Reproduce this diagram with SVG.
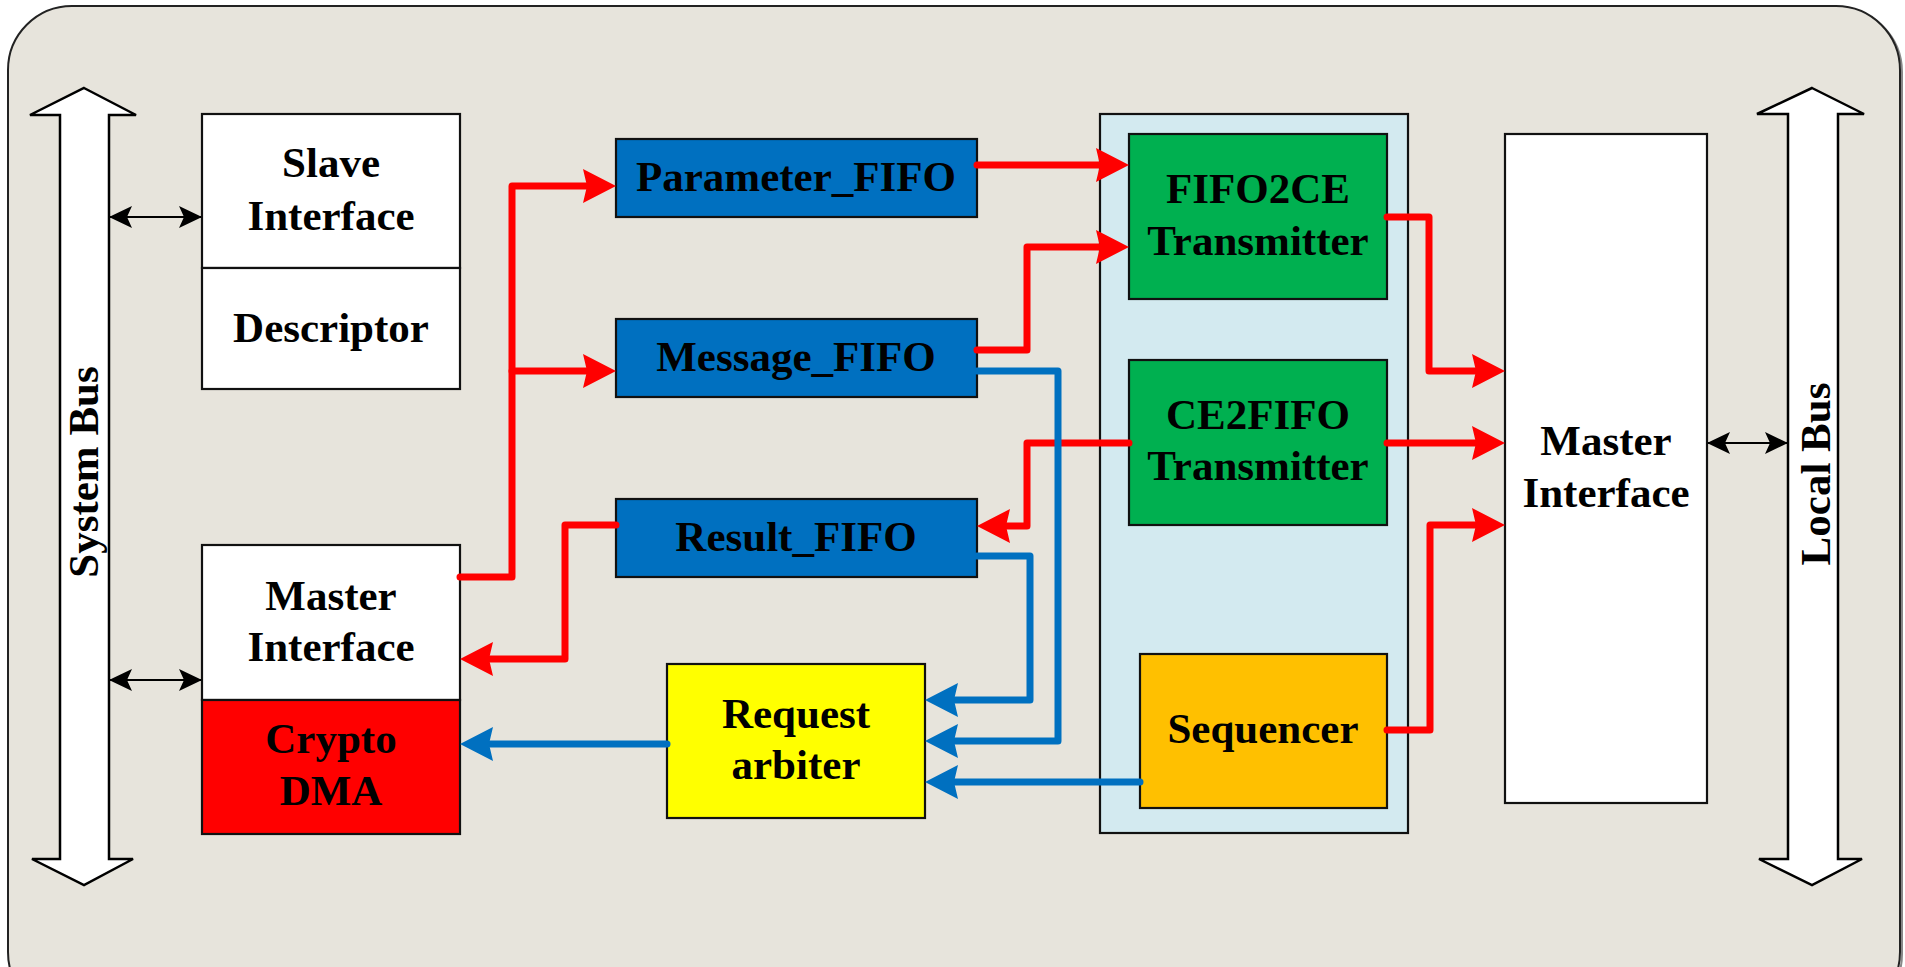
<svg xmlns="http://www.w3.org/2000/svg" width="1905" height="967" viewBox="0 0 1905 967">
<style>
  .box{stroke:#111;stroke-width:2.2}
  .t{font-family:"Liberation Serif","Times New Roman",serif;font-weight:bold;font-size:43px;fill:#000;text-anchor:middle}
  .red{fill:none;stroke:#FF0000;stroke-width:7;stroke-linecap:round;stroke-linejoin:round}
  .blue{fill:none;stroke:#0070C0;stroke-width:7;stroke-linecap:round;stroke-linejoin:round}
  .blk{fill:none;stroke:#000;stroke-width:2}
  .bus{fill:#fff;stroke:#000;stroke-width:2.5;stroke-linejoin:miter}
</style>
<defs>
  <marker id="ar" viewBox="-20 -20 45 40" markerWidth="45" markerHeight="40" refX="0" refY="0" markerUnits="userSpaceOnUse" orient="auto">
    <path d="M20,0 L-13,-17 L-9,0 L-13,17 Z" fill="#FF0000"/>
  </marker>
  <marker id="ab" viewBox="-20 -20 45 40" markerWidth="45" markerHeight="40" refX="0" refY="0" markerUnits="userSpaceOnUse" orient="auto">
    <path d="M20,0 L-13,-17 L-9,0 L-13,17 Z" fill="#0070C0"/>
  </marker>
  <marker id="ak" viewBox="-30 -15 35 30" markerWidth="35" markerHeight="30" refX="0" refY="0" markerUnits="userSpaceOnUse" orient="auto-start-reverse">
    <path d="M1,0 L-22,-11 L-17,0 L-22,11 Z" fill="#000"/>
  </marker>
</defs>

<rect x="0" y="0" width="1905" height="967" fill="#fff"/>
<rect x="10" y="8" width="1892" height="1010" rx="64" ry="64" fill="none" stroke="#888" stroke-width="2"/>
<rect x="8" y="6" width="1892" height="1010" rx="64" ry="64" fill="#E7E4DC" stroke="#222" stroke-width="2"/>

<g id="system-bus">
  <path class="bus" d="M84,88 L136,115 L109,115 L109,859 L133,859 L84,885 L32,859 L60,859 L60,115 L30,115 Z"/>
  <text class="t" transform="translate(98,472) rotate(-90)">System Bus</text>
</g>

<g id="local-bus">
  <path class="bus" d="M1812,88 L1864,114 L1838,114 L1838,859 L1862,859 L1812,885 L1759,859 L1788,859 L1788,114 L1757,114 Z"/>
  <text class="t" transform="translate(1830,474) rotate(-90)">Local Bus</text>
</g>

<g id="slave-interface">
  <rect class="box" x="202" y="114" width="258" height="154" fill="#fff"/>
  <text class="t" x="331" y="177">Slave</text>
  <text class="t" x="331" y="230">Interface</text>
</g>
<g id="descriptor">
  <rect class="box" x="202" y="268" width="258" height="121" fill="#fff"/>
  <text class="t" x="331" y="342">Descriptor</text>
</g>

<g id="master-interface-left">
  <rect class="box" x="202" y="545" width="258" height="155" fill="#fff"/>
  <text class="t" x="331" y="610">Master</text>
  <text class="t" x="331" y="661">Interface</text>
</g>
<g id="crypto-dma">
  <rect class="box" x="202" y="700" width="258" height="134" fill="#FF0000"/>
  <text class="t" x="331" y="753">Crypto</text>
  <text class="t" x="331" y="805">DMA</text>
</g>

<g id="parameter-fifo">
  <rect class="box" x="616" y="139" width="361" height="78" fill="#0070C0"/>
  <text class="t" x="796" y="191">Parameter_FIFO</text>
</g>
<g id="message-fifo">
  <rect class="box" x="616" y="319" width="361" height="78" fill="#0070C0"/>
  <text class="t" x="796" y="371">Message_FIFO</text>
</g>
<g id="result-fifo">
  <rect class="box" x="616" y="499" width="361" height="78" fill="#0070C0"/>
  <text class="t" x="796" y="551">Result_FIFO</text>
</g>

<g id="request-arbiter">
  <rect class="box" x="667" y="664" width="258" height="154" fill="#FFFF00"/>
  <text class="t" x="796" y="728">Request</text>
  <text class="t" x="796" y="779">arbiter</text>
</g>

<g id="engine-container">
  <rect class="box" x="1100" y="114" width="308" height="719" fill="#D3EAF0"/>
</g>
<g id="fifo2ce">
  <rect class="box" x="1129" y="134" width="258" height="165" fill="#00B050"/>
  <text class="t" x="1258" y="203">FIFO2CE</text>
  <text class="t" x="1258" y="255">Transmitter</text>
</g>
<g id="ce2fifo">
  <rect class="box" x="1129" y="360" width="258" height="165" fill="#00B050"/>
  <text class="t" x="1258" y="429">CE2FIFO</text>
  <text class="t" x="1258" y="480">Transmitter</text>
</g>
<g id="sequencer">
  <rect class="box" x="1140" y="654" width="247" height="154" fill="#FFC000"/>
  <text class="t" x="1263" y="743">Sequencer</text>
</g>

<g id="master-interface-right">
  <rect class="box" x="1505" y="134" width="202" height="669" fill="#fff"/>
  <text class="t" x="1606" y="455">Master</text>
  <text class="t" x="1606" y="507">Interface</text>
</g>

<g id="connectors">
  <line class="blk" x1="110" y1="217" x2="201" y2="217" marker-start="url(#ak)" marker-end="url(#ak)"/>
  <line class="blk" x1="110" y1="680" x2="201" y2="680" marker-start="url(#ak)" marker-end="url(#ak)"/>
  <line class="blk" x1="1708" y1="443" x2="1787" y2="443" marker-start="url(#ak)" marker-end="url(#ak)"/>

  <path class="red" d="M460,577 H512 V186 H596" marker-end="url(#ar)"/>
  <path class="red" d="M512,371 H596" marker-end="url(#ar)"/>
  <path class="red" d="M616,525 H565 V659 H480" marker-end="url(#ar)"/>
  <path class="red" d="M977,165 H1109" marker-end="url(#ar)"/>
  <path class="red" d="M977,350 H1027 V247 H1109" marker-end="url(#ar)"/>
  <path class="red" d="M1129,443 H1027 V526 H997" marker-end="url(#ar)"/>
  <path class="red" d="M1387,217 H1429 V371 H1485" marker-end="url(#ar)"/>
  <path class="red" d="M1387,443 H1485" marker-end="url(#ar)"/>
  <path class="red" d="M1387,730 H1430 V525 H1485" marker-end="url(#ar)"/>

  <path class="blue" d="M977,556 H1030 V700 H945" marker-end="url(#ab)"/>
  <path class="blue" d="M977,371 H1058 V741 H945" marker-end="url(#ab)"/>
  <path class="blue" d="M1140,782 H945" marker-end="url(#ab)"/>
  <path class="blue" d="M667,744 H480" marker-end="url(#ab)"/>
</g>
</svg>
